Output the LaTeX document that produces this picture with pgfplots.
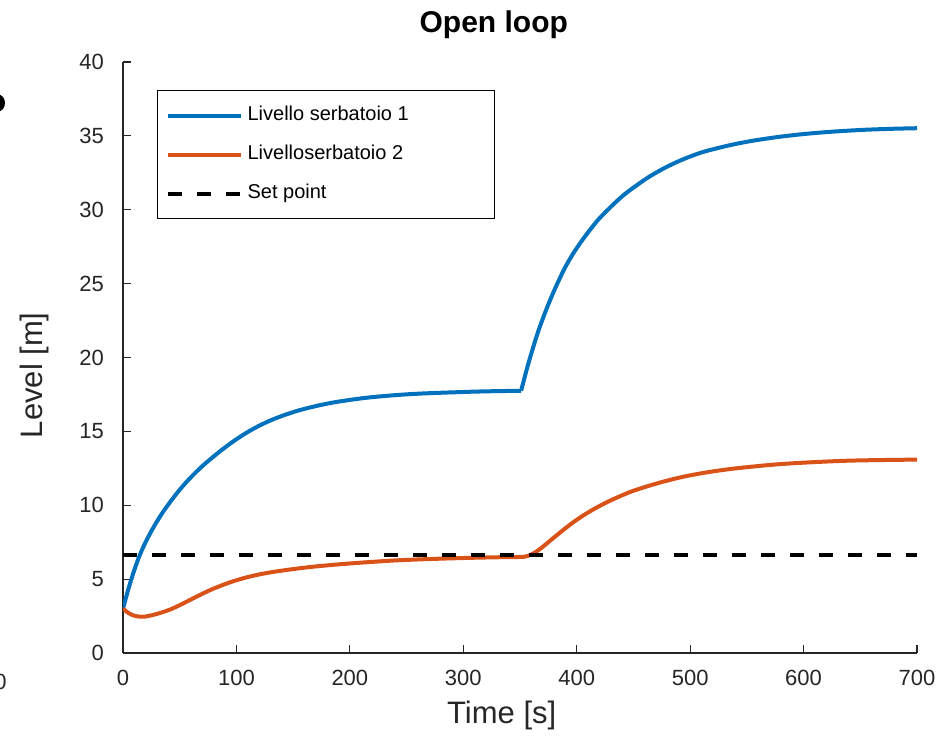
\documentclass[border=0pt]{standalone}
\usepackage{pgfplots}
\pgfplotsset{compat=1.18}
\usepackage{fontspec}
\setmainfont{Liberation Sans}
\definecolor{mblue}{rgb}{0,0.447,0.741}
\definecolor{morange}{rgb}{0.85,0.325,0.098}
\definecolor{axgray}{rgb}{0.15,0.15,0.15}

% tank 1, before the step
\pgfplotstableread{
t L
0 3.0
5 4.4
10 5.62
14.5 6.57
20 7.52
26.7 8.48
34 9.4
41.4 10.2
48.7 10.93
56 11.58
63.4 12.17
70.8 12.71
78 13.18
85.5 13.65
92.7 14.07
100 14.47
110 14.96
120 15.38
130 15.74
141 16.07
155 16.42
171 16.73
185 16.95
200 17.13
215 17.28
230 17.39
245 17.48
260 17.55
275 17.6
290 17.64
305 17.68
320 17.71
335 17.73
351 17.75
}\tankAa
% tank 1, after the step
\pgfplotstableread{
t L
351 17.75
357.4 19.6
366.2 21.8
375 23.6
382 24.85
389.8 26.1
397 27.05
404.5 27.9
411.8 28.65
419.2 29.35
426.5 29.93
433.9 30.48
441 30.97
448.6 31.42
463.2 32.2
478 32.85
492.7 33.38
508.8 33.85
523 34.15
538 34.42
552 34.63
567.6 34.82
582 34.97
597 35.1
611 35.2
626.4 35.29
641 35.36
656 35.42
678 35.48
700 35.52
}\tankAb
% tank 2
\pgfplotstableread{
t L
0 3.0
4 2.75
8 2.58
12 2.49
16 2.46
20 2.47
26.7 2.58
34 2.74
41.4 2.94
48.7 3.19
56 3.47
63.4 3.76
70.8 4.04
78 4.3
85.5 4.53
92.7 4.74
100.2 4.93
110 5.14
120.8 5.33
135 5.52
150 5.68
165 5.82
182.5 5.95
200 6.06
220 6.17
241 6.27
270 6.36
300 6.43
330 6.48
350 6.5
356 6.55
362 6.75
369 7.12
376.5 7.6
384 8.07
391.3 8.52
398.6 8.94
406 9.32
413.3 9.66
420.6 9.97
428 10.26
435.4 10.52
442.7 10.76
450 10.98
465 11.35
479.4 11.66
494 11.93
508.8 12.15
523.5 12.33
538.2 12.48
553 12.6
567.6 12.71
582 12.8
597 12.87
612 12.93
626.4 12.98
641 13.02
656 13.045
678 13.07
700 13.09
}\tankB

\begin{document}
\begin{tikzpicture}
\begin{axis}[
  scale only axis,
  width=397pt, height=295.5pt,
  xmin=0, xmax=700, ymin=0, ymax=40,
  axis lines=left,
  axis line style={-, axgray, line width=0.6pt},
  tick align=inside,
  major tick length=4pt,
  tick style={axgray, line width=0.6pt},
  xtick={0,100,...,700}, ytick={0,5,...,40},
  /pgf/number format/assume math mode=true,
  ticklabel style={font=\fontsize{11}{13}\selectfont, text=axgray},
  xticklabel style={yshift=-5pt},
  yticklabel style={xshift=-6pt},
  xlabel={Time [s]}, ylabel={Level [m]},
  label style={font=\fontsize{15.5}{18}\selectfont, text=axgray},
  xlabel style={at={(axis description cs:0.477,-0.105)}, anchor=center},
  ylabel style={at={(axis description cs:-0.111,0.47)}, anchor=center},
  every axis title shift=0pt,
  title={Open loop},
  title style={at={(axis description cs:0.467,1.0626)}, anchor=center,
    font=\fontsize{15}{18}\selectfont\bfseries},
  legend style={at={(rel axis cs:0.0428,0.9526)}, anchor=north west,
    draw=black, line width=0.6pt, fill=white,
    inner xsep=4.25pt, inner ysep=3pt, row sep=0.5pt,
    font=\fontsize{10}{12}\selectfont,
    nodes={inner xsep=2.25pt, inner ysep=5pt, text height=7pt, text depth=2pt}},
  legend cell align=left,
  legend image code/.code={\draw[#1] (0pt,0pt) -- (36.5pt,0pt);},
]
\addplot[mblue, line width=2pt, smooth] table[x=t, y=L] {\tankAa};
\addlegendentry{\makebox[117pt][l]{Livello serbatoio 1}}
\addplot[morange, line width=2pt, smooth] table[x=t, y=L] {\tankB};
\addlegendentry{Livelloserbatoio 2}
\addplot[black, line width=2pt, dash pattern=on 7pt off 7.5pt] coordinates {(0,6.6) (700,6.6)};
\addlegendentry{Set point}
\addplot[mblue, line width=2pt, smooth, forget plot] table[x=t, y=L] {\tankAb};
\end{axis}
% fragments of a neighbouring figure, cut by the page edge
\node[font=\fontsize{11}{13}\selectfont, text=axgray] at (-61.25pt,-14.5pt) {0};
\fill[black] (-62.5pt,275pt) ellipse (3.5pt and 4.25pt);
\pgfresetboundingbox
\path[use as bounding box] (-61.5pt,-46.5pt) rectangle (409.5pt,326.5pt);
\end{tikzpicture}
\end{document}
